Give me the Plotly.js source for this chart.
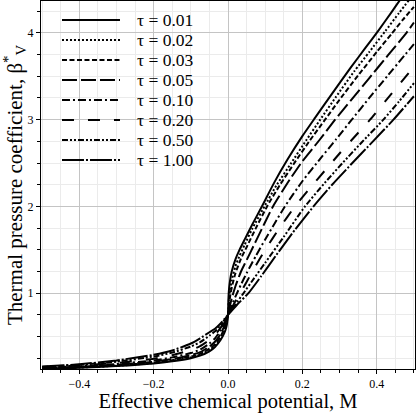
<!DOCTYPE html>
<html>
<head>
<meta charset="utf-8">
<script src="https://cdn.plot.ly/plotly-3.0.1.min.js"></script>
<style>
    html, body { margin: 0; padding: 0; background: #ffffff; }
    #chart { width: 417px; height: 413px; }
</style>
</head>
<body>
<div id="chart"></div>
<script>
// Thermal pressure coefficient vs effective chemical potential, one curve per tau.

const tauLabels = ["τ = 0.01", "τ = 0.02", "τ = 0.03", "τ = 0.05", "τ = 0.10", "τ = 0.20", "τ = 0.50", "τ = 1.00"];

// M < 0 side, same grid for every curve
const mNeg = [-0.5, -0.4, -0.3, -0.2, -0.15, -0.1, -0.075, -0.05, -0.035, -0.02, -0.01, -0.005, 0];

const bNeg001 = [0.125, 0.14, 0.16, 0.19, 0.215, 0.25, 0.28, 0.33, 0.38, 0.46, 0.54, 0.60, 0.75];
const bNeg002 = [0.127, 0.143, 0.163, 0.195, 0.222, 0.26, 0.29, 0.345, 0.395, 0.48, 0.57, 0.63, 0.75];
const bNeg003 = [0.129, 0.146, 0.167, 0.2, 0.228, 0.27, 0.30, 0.36, 0.41, 0.50, 0.59, 0.65, 0.75];
const bNeg005 = [0.133, 0.151, 0.173, 0.21, 0.24, 0.285, 0.32, 0.385, 0.44, 0.53, 0.62, 0.68, 0.75];
const bNeg010 = [0.138, 0.158, 0.183, 0.225, 0.26, 0.31, 0.35, 0.42, 0.48, 0.57, 0.65, 0.70, 0.75];
const bNeg020 = [0.144, 0.166, 0.195, 0.245, 0.285, 0.345, 0.39, 0.46, 0.52, 0.60, 0.68, 0.715, 0.75];
const bNeg050 = [0.15, 0.174, 0.21, 0.27, 0.315, 0.385, 0.435, 0.51, 0.56, 0.63, 0.69, 0.72, 0.75];
const bNeg100 = [0.155, 0.18, 0.225, 0.29, 0.34, 0.42, 0.48, 0.55, 0.59, 0.65, 0.70, 0.725, 0.75];

// M > 0 side, read per curve
const mPos001 = [0.001, 0.003, 0.006, 0.01, 0.02, 0.03, 0.045, 0.065, 0.09, 0.125, 0.16, 0.2, 0.234, 0.28, 0.33, 0.37, 0.405, 0.44, 0.466, 0.5];
const bPos001 = [0.92, 1.06, 1.16, 1.25, 1.39, 1.49, 1.62, 1.79, 1.99, 2.28, 2.54, 2.81, 3.02, 3.3, 3.6, 3.83, 4.03, 4.24, 4.4, 4.6];

const mPos002 = [0.002, 0.005, 0.01, 0.02, 0.03, 0.045, 0.065, 0.098, 0.13, 0.17, 0.21, 0.248, 0.29, 0.34, 0.38, 0.423, 0.46, 0.5];
const bPos002 = [0.9, 1.02, 1.15, 1.31, 1.42, 1.56, 1.74, 2.0, 2.24, 2.5, 2.76, 3.0, 3.26, 3.56, 3.78, 4.02, 4.23, 4.45];

const mPos003 = [0.003, 0.007, 0.012, 0.02, 0.035, 0.05, 0.075, 0.105, 0.14, 0.18, 0.22, 0.261, 0.3, 0.35, 0.4, 0.44, 0.47, 0.5];
const bPos003 = [0.88, 1.0, 1.1, 1.23, 1.4, 1.53, 1.75, 2.0, 2.25, 2.51, 2.76, 3.0, 3.23, 3.51, 3.78, 3.99, 4.15, 4.3];

const mPos005 = [0.005, 0.01, 0.02, 0.035, 0.05, 0.075, 0.1, 0.121, 0.16, 0.2, 0.245, 0.288, 0.33, 0.38, 0.43, 0.48, 0.5];
const bPos005 = [0.85, 0.94, 1.08, 1.25, 1.38, 1.6, 1.82, 2.0, 2.27, 2.52, 2.76, 3.0, 3.22, 3.48, 3.74, 4.0, 4.12];

const mPos010 = [0.01, 0.02, 0.035, 0.05, 0.075, 0.1, 0.125, 0.153, 0.2, 0.25, 0.29, 0.333, 0.38, 0.43, 0.5];
const bPos010 = [0.86, 0.96, 1.1, 1.23, 1.43, 1.62, 1.8, 2.0, 2.29, 2.56, 2.77, 3.0, 3.25, 3.51, 3.87];

const mPos020 = [0.015, 0.03, 0.05, 0.075, 0.1, 0.14, 0.18, 0.22, 0.26, 0.3, 0.34, 0.382, 0.44, 0.5];
const bPos020 = [0.87, 0.98, 1.13, 1.32, 1.5, 1.76, 2.0, 2.21, 2.41, 2.61, 2.8, 3.0, 3.3, 3.61];

const mPos050 = [0.02, 0.04, 0.07, 0.1, 0.15, 0.207, 0.26, 0.31, 0.36, 0.418, 0.46, 0.5];
const bPos050 = [0.87, 0.99, 1.17, 1.35, 1.65, 2.0, 2.27, 2.51, 2.74, 3.0, 3.21, 3.42];

const mPos100 = [0.025, 0.055, 0.09, 0.13, 0.18, 0.23, 0.28, 0.33, 0.39, 0.445, 0.5];
const bPos100 = [0.87, 1.0, 1.2, 1.44, 1.73, 2.0, 2.25, 2.48, 2.75, 3.0, 3.27];

const xTickVals = [-0.4, -0.2, 0, 0.2, 0.4];
const xTickText = ["\u22120.4", "\u22120.2", "0.0", "0.2", "0.4"];
const yTickVals = [1, 2, 3, 4];

const dashes = [
    "solid",
    "2px,2px",
    "5px,2.5px",
    "15px,4px",
    "8px,3px,2px,3px",
    "12px,14px",
    "6px,2px,2px,2px,2px,2px",
    "22px,2px,2px,2px"
];

const curves = [
    { neg: bNeg001, m: mPos001, b: bPos001 },
    { neg: bNeg002, m: mPos002, b: bPos002 },
    { neg: bNeg003, m: mPos003, b: bPos003 },
    { neg: bNeg005, m: mPos005, b: bPos005 },
    { neg: bNeg010, m: mPos010, b: bPos010 },
    { neg: bNeg020, m: mPos020, b: bPos020 },
    { neg: bNeg050, m: mPos050, b: bPos050 },
    { neg: bNeg100, m: mPos100, b: bPos100 }
];

const FONT = "Liberation Serif, Times New Roman, serif";

const traces = curves.map((c, i) => {
    return {
        x: mNeg.concat(c.m),
        y: c.neg.concat(c.b),
        name: tauLabels[i],
        type: "scatter",
        mode: "lines",
        hoverinfo: "skip",
        line: {
            color: "#000000",
            width: 2,
            dash: dashes[i],
            shape: "spline",
            smoothing: 0.5
        }
    };
});

// Legend drawn Maple-style: long sample lines on a hidden overlay axis, one row per tau
const legendTraces = tauLabels.map((label, i) => {
    return {
        x: [0, 1],
        y: [i, i],
        xaxis: "x2",
        yaxis: "y2",
        type: "scatter",
        mode: "lines",
        hoverinfo: "skip",
        showlegend: false,
        line: {
            color: "#000000",
            width: 2,
            dash: dashes[i]
        }
    };
});

const legendText = tauLabels.map((label, i) => {
    return {
        text: label,
        xref: "paper",
        yref: "y2",
        x: 0.2513,
        y: i,
        xanchor: "left",
        yanchor: "middle",
        showarrow: false,
        font: { family: FONT, size: 17.5, color: "#000000" }
    };
});

const axisCommon = {
    showline: true,
    linecolor: "#000000",
    linewidth: 1,
    mirror: true,
    ticks: "outside",
    ticklen: 4,
    tickcolor: "#000000",
    gridcolor: "#c4c4c4",
    gridwidth: 1,
    zeroline: false,
    tickfont: { family: FONT, size: 12, color: "#000000" },
    minor: {
        ticks: "outside",
        ticklen: 3,
        tickcolor: "#000000",
        showgrid: true,
        gridcolor: "#ebebeb",
        gridwidth: 1
    }
};

const hiddenAxis = {
    visible: false,
    showgrid: false,
    zeroline: false,
    fixedrange: true
};

const layout = {
    width: 417,
    height: 413,
    paper_bgcolor: "#ffffff",
    // transparent so the legend overlay does not hide the main plot
    plot_bgcolor: "rgba(0,0,0,0)",
    margin: { l: 41, r: 2, t: 1, b: 44 },
    font: { family: FONT, color: "#000000" },
    showlegend: false,
    xaxis: Object.assign({}, axisCommon, {
        range: [-0.503, 0.503],
        tickvals: xTickVals,
        ticktext: xTickText,
        minor: Object.assign({}, axisCommon.minor, { dtick: 0.05, tick0: 0 }),
        title: {
            text: "Effective chemical potential, M",
            font: { family: FONT, size: 20.5, color: "#000000" },
            standoff: 5
        }
    }),
    yaxis: Object.assign({}, axisCommon, {
        range: [0.126, 4.368],
        tickvals: yTickVals,
        minor: Object.assign({}, axisCommon.minor, { dtick: 0.25, tick0: 0 }),
        title: {
            text: "Thermal pressure coefficient, β<sup>*</sup><sub>V</sub>",
            font: { family: FONT, size: 21, color: "#000000" },
            standoff: 4
        }
    }),
    xaxis2: Object.assign({}, hiddenAxis, {
        domain: [0.0561, 0.2112],
        range: [0, 1],
        anchor: "y2"
    }),
    yaxis2: Object.assign({}, hiddenAxis, {
        domain: [0, 1],
        range: [17.45, -0.95],
        anchor: "x2"
    }),
    annotations: legendText
};

const config = {
    staticPlot: true,
    displayModeBar: false
};

Plotly.newPlot("chart", traces.concat(legendTraces), layout, config);
</script>
</body>
</html>
